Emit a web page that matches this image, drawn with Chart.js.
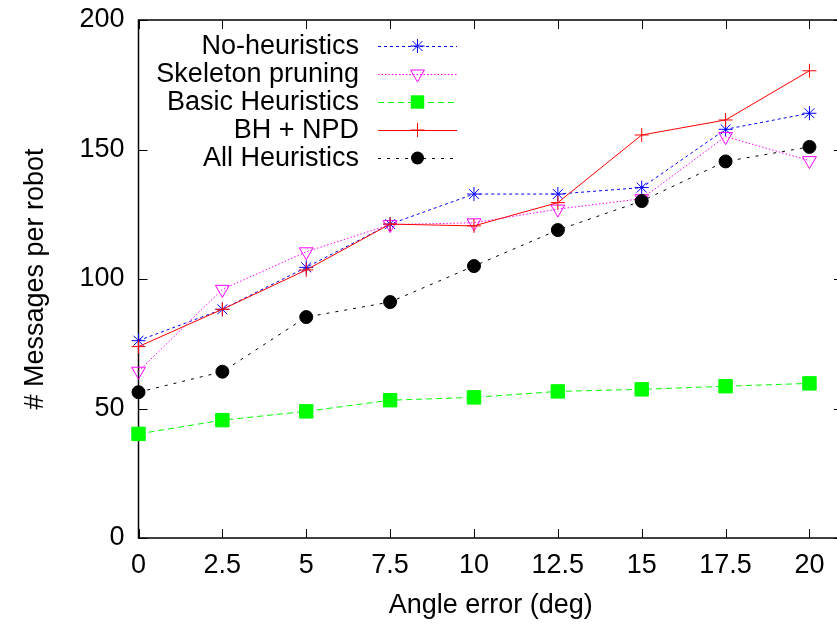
<!DOCTYPE html>
<html>
<head>
<meta charset="utf-8">
<script src="https://cdn.jsdelivr.net/npm/chart.js@4.4.1/dist/chart.umd.min.js"></script>
<style>
  html, body { margin: 0; padding: 0; background: #fff; }
  #wrap { width: 837px; height: 627px; overflow: hidden; }
</style>
</head>
<body>
<div id="wrap"><canvas id="chart" width="880" height="627"></canvas></div>
<script>
// angle error (deg)
const angles = [0, 2.5, 5, 7.5, 10, 12.5, 15, 17.5, 20];
const seriesNames = ["No-heuristics", "Skeleton pruning", "Basic Heuristics", "BH + NPD", "All Heuristics"];
const noHeuristics = [76.2, 88.3, 104.5, 121.2, 132.8, 132.8, 135.3, 157.8, 164];
const skeletonPruning = [64.4, 96, 110.5, 121, 121.7, 127, 131, 155, 145.7];
const basicHeuristics = [40.2, 45.5, 48.9, 53.2, 54.3, 56.6, 57.4, 58.6, 59.7];
const bhNpd = [73.9, 88.3, 103.5, 121.2, 120.5, 129.5, 155.6, 161.4, 180.4];
const allHeuristics = [56.3, 64.2, 85.3, 91.1, 105, 118.9, 130.1, 145.4, 151];
const xTicks = [0, 2.5, 5, 7.5, 10, 12.5, 15, 17.5, 20];
const yTicks = [0, 50, 100, 150, 200];

const FONT = '"Liberation Sans", Arial, Helvetica, sans-serif';

const styles = [
  { color: "#0000ff", dash: [3, 3], point: "star", radius: 7, fill: false },
  { color: "#ff00ff", dash: [1.5, 2], point: "triangle", radius: 8, fill: false, rot: 180 },
  { color: "#00ff00", dash: [6, 4], point: "rect", radius: 9.5, fill: true },
  { color: "#ff0000", dash: [], point: "cross", radius: 7, fill: false },
  { color: "#000000", dash: [3, 6], point: "circle", radius: 6.5, fill: true }
];
const allSeries = [noHeuristics, skeletonPruning, basicHeuristics, bhNpd, allHeuristics];

const datasets = allSeries.map((vals, i) => ({
  label: seriesNames[i],
  data: angles.map((a, j) => ({ x: a, y: vals[j] })),
  borderColor: styles[i].color,
  backgroundColor: styles[i].fill ? styles[i].color : "rgba(0,0,0,0)",
  borderWidth: 1,
  borderDash: styles[i].dash,
  pointStyle: styles[i].point,
  pointRotation: styles[i].rot || 0,
  pointRadius: styles[i].radius,
  pointBorderColor: styles[i].color,
  pointBackgroundColor: styles[i].fill ? styles[i].color : "rgba(0,0,0,0)",
  pointBorderWidth: 1,
  tension: 0,
  clip: false,
  order: 5 - i
}));

function drawMarker(ctx, st, x, y) {
  const r = st.radius;
  ctx.save();
  ctx.setLineDash([]);
  ctx.strokeStyle = st.color;
  ctx.fillStyle = st.color;
  ctx.lineWidth = 1;
  ctx.beginPath();
  if (st.point === "star") {
    const d = r * Math.SQRT1_2;
    ctx.moveTo(x - r, y); ctx.lineTo(x + r, y);
    ctx.moveTo(x, y - r); ctx.lineTo(x, y + r);
    ctx.moveTo(x - d, y - d); ctx.lineTo(x + d, y + d);
    ctx.moveTo(x - d, y + d); ctx.lineTo(x + d, y - d);
    ctx.stroke();
  } else if (st.point === "triangle") {
    ctx.moveTo(x, y + r);
    ctx.lineTo(x - r * 0.866, y - r / 2);
    ctx.lineTo(x + r * 0.866, y - r / 2);
    ctx.closePath();
    ctx.stroke();
  } else if (st.point === "rect") {
    const s = r * Math.SQRT1_2;
    ctx.fillRect(x - s, y - s, 2 * s, 2 * s);
  } else if (st.point === "cross") {
    ctx.moveTo(x - r, y); ctx.lineTo(x + r, y);
    ctx.moveTo(x, y - r); ctx.lineTo(x, y + r);
    ctx.stroke();
  } else {
    ctx.arc(x, y, r, 0, Math.PI * 2);
    ctx.fill();
  }
  ctx.restore();
}

const framePlugin = {
  id: "frame",
  beforeDatasetsDraw(chart) {
    const { ctx, chartArea: a, scales } = chart;
    ctx.save();
    ctx.strokeStyle = "#000";
    ctx.lineWidth = 1.5;
    ctx.strokeRect(a.left, a.top, a.right - a.left, a.bottom - a.top);
    ctx.lineWidth = 1;
    ctx.beginPath();
    xTicks.forEach((v) => {
      const px = Math.round(scales.x.getPixelForValue(v)) + 0.5;
      ctx.moveTo(px, a.bottom); ctx.lineTo(px, a.bottom - 9);
      ctx.moveTo(px, a.top); ctx.lineTo(px, a.top + 9);
    });
    yTicks.forEach((v) => {
      const py = Math.round(scales.y.getPixelForValue(v)) + 0.5;
      ctx.moveTo(a.left, py); ctx.lineTo(a.left + 9, py);
      ctx.moveTo(a.right, py); ctx.lineTo(a.right - 9, py);
    });
    ctx.stroke();
    ctx.restore();
  },
  afterDatasetsDraw(chart) {
    const { ctx } = chart;
    ctx.save();
    ctx.font = "27px " + FONT;
    ctx.fillStyle = "#000";
    ctx.textAlign = "right";
    ctx.textBaseline = "middle";
    seriesNames.forEach((name, i) => {
      const y = 46 + i * 28;
      ctx.fillText(name, 359, y + 1);
      ctx.save();
      ctx.strokeStyle = styles[i].color;
      ctx.lineWidth = 1;
      ctx.setLineDash(styles[i].dash);
      ctx.beginPath();
      ctx.moveTo(378, y + 0.5);
      ctx.lineTo(457, y + 0.5);
      ctx.stroke();
      ctx.restore();
      drawMarker(ctx, styles[i], 417.5, y);
    });
    ctx.restore();
  }
};

new Chart(document.getElementById("chart"), {
  type: "line",
  data: { datasets },
  plugins: [framePlugin],
  options: {
    responsive: false,
    animation: false,
    layout: { padding: { top: 20, right: 37, bottom: 0, left: 0 } },
    plugins: { legend: { display: false }, tooltip: { enabled: false } },
    scales: {
      x: {
        type: "linear",
        min: 0,
        max: 21,
        border: { display: false },
        grid: { display: false, drawTicks: false },
        afterBuildTicks: (s) => { s.ticks = xTicks.map((v) => ({ value: v })); },
        afterFit: (s) => { s.height = 89; s.paddingLeft = 0; s.paddingRight = 0; },
        ticks: {
          color: "#000",
          padding: 11,
          maxRotation: 0,
          autoSkip: false,
          font: { family: FONT, size: 27 }
        },
        title: {
          display: true,
          text: "Angle error (deg)",
          color: "#000",
          padding: { top: 0, bottom: 5 },
          font: { family: FONT, size: 27 }
        }
      },
      y: {
        min: 0,
        max: 200,
        border: { display: false },
        grid: { display: false, drawTicks: false },
        afterBuildTicks: (s) => { s.ticks = yTicks.map((v) => ({ value: v })); },
        afterFit: (s) => { s.width = 138.5; s.paddingTop = 0; s.paddingBottom = 0; },
        ticks: {
          color: "#000",
          padding: 14,
          font: { family: FONT, size: 27 }
        },
        title: {
          display: true,
          text: "# Messages per robot",
          color: "#000",
          padding: { top: 19, bottom: 0 },
          font: { family: FONT, size: 27 }
        }
      }
    }
  }
});
</script>
</body>
</html>
